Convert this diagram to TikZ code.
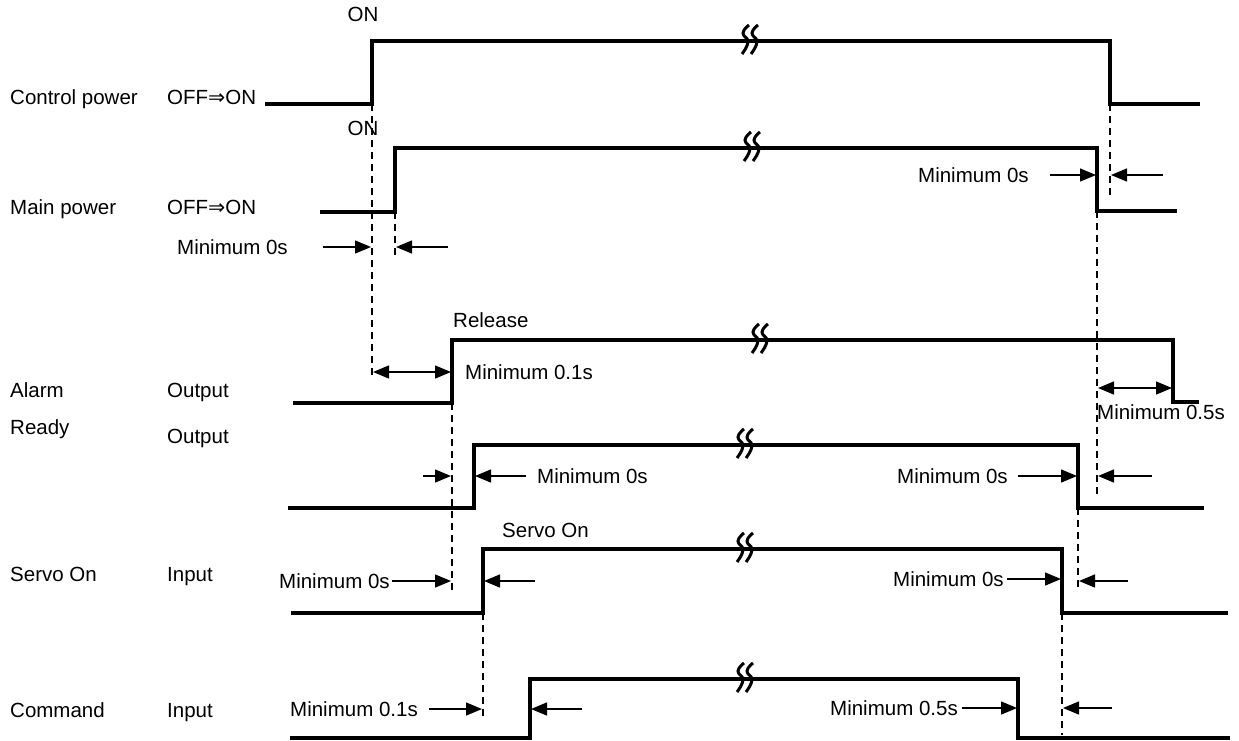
\documentclass[tikz,border=0pt]{standalone}
\usepackage{fontspec}
\setmainfont{Liberation Sans}
\newfontfamily\djv{DejaVu Sans}
\usetikzlibrary{arrows.meta}
\begin{document}
\begin{tikzpicture}[x=1pt,y=-1pt,
  sig/.style={line width=3.8pt, line join=miter},
  guide/.style={line width=1.6pt, dash pattern=on 7pt off 5pt},
  arr/.style={line width=1.4pt, -{Triangle[length=16pt,width=13pt]}},
  darr/.style={line width=1.4pt, {Triangle[length=16pt,width=13pt]}-{Triangle[length=16pt,width=13pt]}},
  lbl/.style={font=\fontsize{20.5}{24}\selectfont, inner sep=0pt, anchor=base west},
  clbl/.style={font=\fontsize{20.5}{24}\selectfont, inner sep=0pt, anchor=base},
  brkmark/.pic={\draw[line width=3pt, line cap=butt] plot[smooth, tension=0.8] coordinates {(4,-16) (-2,-8) (3,1) (-3,13)};
                \draw[line width=3pt, line cap=butt] plot[smooth, tension=0.8] coordinates {(13,-16) (7,-8) (12,1) (6,13)};}
]
\useasboundingbox (0,0) rectangle (1239,740);

% ---------- row labels ----------
\node[lbl] (l1) at (10,104) {Control power};
\node[lbl] (l2) at (10,214) {Main power};
\node[lbl] (l3) at (10,397) {Alarm};
\node[lbl] (l4) at (10,434) {Ready};
\node[lbl] (l5) at (10,581) {Servo On};
\node[lbl] (l6) at (10,717) {Command};
\node[lbl] (m1) at (167,104) {OFF{\djv ⇒}ON};
\node[lbl] (m2) at (167,214) {OFF{\djv ⇒}ON};
\node[lbl] (m3) at (167,397) {Output};
\node[lbl] (m4) at (167,443) {Output};
\node[lbl] (m5) at (167,581) {Input};
\node[lbl] (m6) at (167,717) {Input};

% ---------- signal edge coordinates ----------
\coordinate (cpa) at (265,104);  \coordinate (cpb) at (372,104);
\coordinate (cpc) at (372,41);   \coordinate (cpd) at (1110,41);
\coordinate (cpe) at (1110,104); \coordinate (cpf) at (1200,104);

\coordinate (mpa) at (320,212);  \coordinate (mpb) at (395,212);
\coordinate (mpc) at (395,148);  \coordinate (mpd) at (1097,148);
\coordinate (mpe) at (1097,211); \coordinate (mpf) at (1177,211);

\coordinate (ala) at (293,403);  \coordinate (alb) at (452,403);
\coordinate (alc) at (452,340);  \coordinate (ald) at (1173,340);
\coordinate (ale) at (1173,402); \coordinate (alf) at (1199,402);

\coordinate (rda) at (288,508);  \coordinate (rdb) at (474,508);
\coordinate (rdc) at (474,445);  \coordinate (rdd) at (1078,445);
\coordinate (rde) at (1078,508); \coordinate (rdf) at (1204,508);

\coordinate (sva) at (291,613);  \coordinate (svb) at (483,613);
\coordinate (svc) at (483,549);  \coordinate (svd) at (1062,549);
\coordinate (sve) at (1062,613); \coordinate (svf) at (1228,613);

\coordinate (cma) at (290,738);  \coordinate (cmb) at (530,738);
\coordinate (cmc) at (530,679);  \coordinate (cmd) at (1018,679);
\coordinate (cme) at (1018,738); \coordinate (cmf) at (1230,738);

% ---------- signals ----------
\draw[sig] (cpa) -- (cpb) -- (cpc) -- (cpd) -- (cpe) -- (cpf);
\draw[sig] (mpa) -- (mpb) -- (mpc) -- (mpd) -- (mpe) -- (mpf);
\draw[sig] (ala) -- (alb) -- (alc) -- (ald) -- (ale) -- (alf);
\draw[sig] (rda) -- (rdb) -- (rdc) -- (rdd) -- (rde) -- (rdf);
\draw[sig] (sva) -- (svb) -- (svc) -- (svd) -- (sve) -- (svf);
\draw[sig] (cma) -- (cmb) -- (cmc) -- (cmd) -- (cme) -- (cmf);

% ---------- break marks ----------
\pic at (745,41) {brkmark};
\pic at (747,148) {brkmark};
\pic at (755,340) {brkmark};
\pic at (740,445) {brkmark};
\pic at (740,549) {brkmark};
\pic at (740,679) {brkmark};

% ---------- dashed guides ----------
\coordinate (g1) at (372,378);
\coordinate (g2) at (1110,197);
\coordinate (g3) at (395,258);
\coordinate (g4) at (1097,495);
\coordinate (g5) at (452,591);
\coordinate (g6) at (1078,590);
\coordinate (g7) at (483,717);
\coordinate (g8) at (1062,735);
\draw[guide] (cpb) -- (g1);
\draw[guide] (cpe) -- (g2);
\draw[guide] (mpb) -- (g3);
\draw[guide] (mpe) -- (g4);
\draw[guide] (alb) -- (g5);
\draw[guide] (rde) -- (g6);
\draw[guide] (svb) -- (g7);
\draw[guide] (sve) -- (g8);

% ---------- edge labels ----------
\node[clbl] (on1) at (363,21) {ON};
\node[clbl] (on2) at (363,135) {ON};
\node[lbl] (rel) at (453,327) {Release};
\node[lbl] (svo) at (502,537) {Servo On};

% ---------- timing annotations ----------
% main power, left
\node[lbl] (t1) at (177,254) {Minimum 0s};
\coordinate (a1s) at (323,247); \coordinate (a1e) at (371,247);
\coordinate (a2s) at (448,247); \coordinate (a2e) at (396,247);
\draw[arr] (a1s) -- (a1e);
\draw[arr] (a2s) -- (a2e);
% main power, right
\node[lbl] (t2) at (918,182) {Minimum 0s};
\coordinate (a3s) at (1050,175); \coordinate (a3e) at (1096,175);
\coordinate (a4s) at (1163,175); \coordinate (a4e) at (1111,175);
\draw[arr] (a3s) -- (a3e);
\draw[arr] (a4s) -- (a4e);
% alarm
\coordinate (a5s) at (373,372); \coordinate (a5e) at (451,372);
\draw[darr] (a5s) -- (a5e);
\node[lbl] (t3) at (465,379) {Minimum 0.1s};
\coordinate (a6s) at (1098,388); \coordinate (a6e) at (1172,388);
\draw[darr] (a6s) -- (a6e);
\node[lbl] (t4) at (1097,419) {Minimum 0.5s};
% ready
\coordinate (a7s) at (423,476); \coordinate (a7e) at (451,476);
\coordinate (a8s) at (526,476); \coordinate (a8e) at (475,476);
\draw[arr] (a7s) -- (a7e);
\draw[arr] (a8s) -- (a8e);
\node[lbl] (t5) at (537,483) {Minimum 0s};
\node[lbl] (t6) at (897,483) {Minimum 0s};
\coordinate (a9s) at (1018,476); \coordinate (a9e) at (1077,476);
\coordinate (a10s) at (1152,476); \coordinate (a10e) at (1098,476);
\draw[arr] (a9s) -- (a9e);
\draw[arr] (a10s) -- (a10e);
% servo on
\node[lbl] (t7) at (279,588) {Minimum 0s};
\coordinate (a11s) at (392,581); \coordinate (a11e) at (451,581);
\coordinate (a12s) at (535,581); \coordinate (a12e) at (484,581);
\draw[arr] (a11s) -- (a11e);
\draw[arr] (a12s) -- (a12e);
\node[lbl] (t8) at (893,586) {Minimum 0s};
\coordinate (a13s) at (1007,579); \coordinate (a13e) at (1061,579);
\coordinate (a14s) at (1128,581); \coordinate (a14e) at (1079,581);
\draw[arr] (a13s) -- (a13e);
\draw[arr] (a14s) -- (a14e);
% command
\node[lbl] (t9) at (290,716) {Minimum 0.1s};
\coordinate (a15s) at (429,709); \coordinate (a15e) at (482,709);
\coordinate (a16s) at (582,709); \coordinate (a16e) at (531,709);
\draw[arr] (a15s) -- (a15e);
\draw[arr] (a16s) -- (a16e);
\node[lbl] (t10) at (830,715) {Minimum 0.5s};
\coordinate (a17s) at (962,708); \coordinate (a17e) at (1017,708);
\coordinate (a18s) at (1112,708); \coordinate (a18e) at (1063,708);
\draw[arr] (a17s) -- (a17e);
\draw[arr] (a18s) -- (a18e);
\end{tikzpicture}
\end{document}
